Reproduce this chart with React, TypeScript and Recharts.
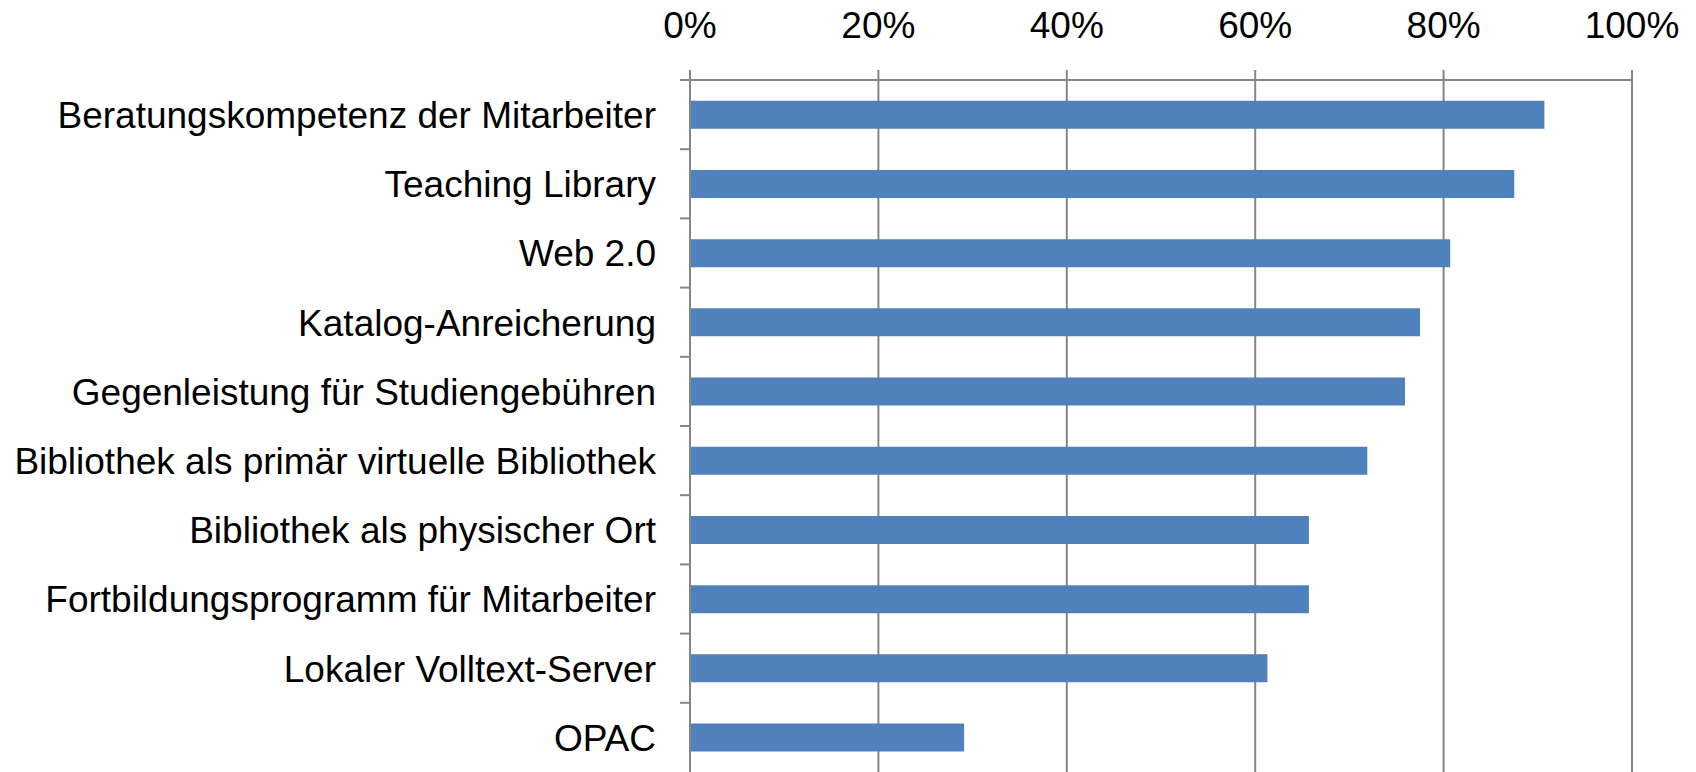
import { BarChart, Bar, XAxis, YAxis, CartesianGrid } from 'recharts';

const CATEGORIES = [
  'Beratungskompetenz der Mitarbeiter',
  'Teaching Library',
  'Web 2.0',
  'Katalog-Anreicherung',
  'Gegenleistung für Studiengebühren',
  'Bibliothek als primär virtuelle Bibliothek',
  'Bibliothek als physischer Ort',
  'Fortbildungsprogramm für Mitarbeiter',
  'Lokaler Volltext-Server',
  'OPAC',
];

// share in percent
const VALUES = [90.7, 87.5, 80.7, 77.5, 75.9, 71.9, 65.7, 65.7, 61.3, 29.1];

const X_TICKS = [0, 20, 40, 60, 80, 100];

const GRID = '#868686';
const BLUE = '#4F81BD';
const FONT = '"Liberation Sans", Arial, sans-serif';

const data = CATEGORIES.map((name, i) => ({ name, value: VALUES[i] }));

// label centered in the band, tick mark on the band boundary (Excel style)
const CategoryTick = (props: any) => {
  const { x, y, payload } = props;
  const half = payload && payload.offset ? payload.offset : 34.6;
  return (
    <g>
      <line x1={x + 24} x2={x + 34} y1={y - half} y2={y - half} stroke={GRID} strokeWidth={2} />
      <text
        x={x}
        y={y}
        dy="0.36em"
        textAnchor="end"
        fill="#000"
        style={{ fontSize: 37, fontFamily: FONT }}
      >
        {payload.value}
      </text>
    </g>
  );
};

export default function App() {
  return (
    <div style={{ position: 'absolute', left: 0, top: 0, width: 1696, height: 772, background: '#fff' }}>
      <BarChart
        width={1696}
        height={772}
        data={data}
        layout="vertical"
        margin={{ top: 0, right: 64, bottom: 0, left: 0 }}
        barCategoryGap="30%"
      >
        <CartesianGrid horizontal={false} stroke={GRID} strokeWidth={2} />
        <XAxis
          type="number"
          orientation="top"
          domain={[0, 100]}
          ticks={X_TICKS}
          tickFormatter={(v) => `${v}%`}
          height={80}
          tickSize={10}
          tickMargin={32}
          interval={0}
          axisLine={{ stroke: GRID, strokeWidth: 2 }}
          tickLine={{ stroke: GRID, strokeWidth: 2 }}
          tick={{ fill: '#000', fontSize: 37, fontFamily: FONT }}
        />
        <YAxis
          type="category"
          dataKey="name"
          width={690}
          tickSize={10}
          tickMargin={24}
          interval={0}
          tickLine={false}
          axisLine={{ stroke: GRID, strokeWidth: 2 }}
          tick={<CategoryTick />}
        />
        <Bar dataKey="value" fill={BLUE} isAnimationActive={false} />
      </BarChart>
    </div>
  );
}
